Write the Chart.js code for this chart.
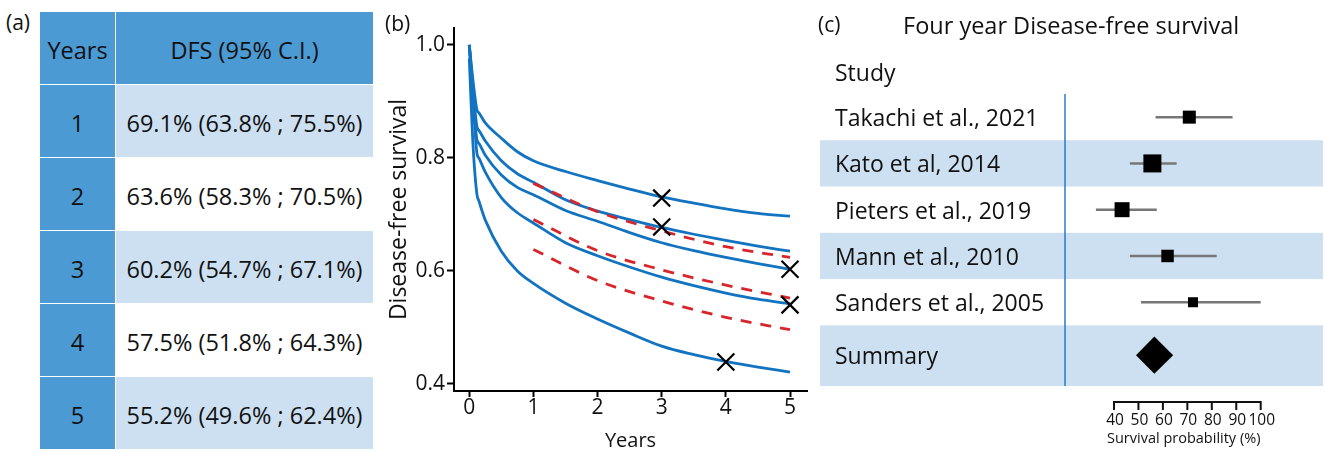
<!DOCTYPE html>
<html><head><meta charset="utf-8">
<script src="https://cdn.jsdelivr.net/npm/chart.js@4.4.1/dist/chart.umd.min.js"></script>
<style>
html,body{margin:0;padding:0;background:#fff;}
body{width:1324px;height:453px;position:relative;overflow:hidden;font-family:'Open Sans',sans-serif;color:#111;}
.lbl{position:absolute;white-space:nowrap;line-height:1;}
#tbl{position:absolute;left:40px;top:12px;display:grid;grid-template-columns:75px 257px;grid-template-rows:72px repeat(5,72px);gap:1px;background:#fff;}
#tbl div{display:flex;align-items:center;justify-content:center;font-size:23.5px;padding-top:3px;box-sizing:border-box;}
canvas{position:absolute;top:0;}
</style></head><body>
<div id="tbl"></div>
<canvas id="km" width="430" height="453" style="left:380px"></canvas>
<canvas id="forest" width="514" height="453" style="left:810px"></canvas>
<div class="lbl" style="left:6px;top:12px;font-size:21px">(a)</div>
<div class="lbl" style="left:385px;top:13px;font-size:21px">(b)</div>
<div class="lbl" style="left:818px;top:14px;font-size:21px">(c)</div>
<div class="lbl" style="left:903px;top:14px;font-size:23.5px">Four year Disease-free survival</div>
<div class="lbl" style="left:835px;top:61px;font-size:23px">Study</div>
<script>
// ---------- data ----------
// (a) pooled DFS table
const tableYears = [1, 2, 3, 4, 5];
const dfsEst  = [69.1, 63.6, 60.2, 57.5, 55.2];
const dfsLow  = [63.8, 58.3, 54.7, 51.8, 49.6];
const dfsHigh = [75.5, 70.5, 67.1, 64.3, 62.4];

// (b) reconstructed survival curves of individual studies
const kmTime = [0, 0.06, 0.12, 0.15, 0.25, 0.5, 0.75, 1, 1.5, 2, 2.5, 3, 3.5, 4, 4.5, 5];
const kmStudy1 = [1.0, 0.935, 0.885, 0.880, 0.862, 0.835, 0.811, 0.795, 0.776, 0.760, 0.745, 0.731, 0.720, 0.710, 0.702, 0.697];
const kmStudy2 = [1.0, 0.920, 0.855, 0.849, 0.830, 0.795, 0.772, 0.757, 0.726, 0.706, 0.691, 0.677, 0.665, 0.654, 0.644, 0.635];
const kmStudy3 = [1.0, 0.910, 0.832, 0.826, 0.805, 0.770, 0.748, 0.735, 0.707, 0.688, 0.668, 0.650, 0.636, 0.624, 0.613, 0.603];
const kmStudy4 = [1.0, 0.900, 0.808, 0.800, 0.775, 0.730, 0.703, 0.685, 0.650, 0.627, 0.607, 0.589, 0.574, 0.561, 0.550, 0.542];
const kmStudy5 = [0.976, 0.820, 0.735, 0.724, 0.690, 0.635, 0.600, 0.578, 0.543, 0.515, 0.490, 0.467, 0.452, 0.440, 0.430, 0.421];
const markerYears = [3, 3, 5, 5, 4];
const markerDFS   = [0.729, 0.678, 0.603, 0.540, 0.439];
const kmXTicks = [0, 1, 2, 3, 4, 5];
const kmYTicks = [0.4, 0.6, 0.8, 1.0];

// (c) forest plot
const studies    = ['Takachi et al., 2021', 'Kato et al, 2014', 'Pieters et al., 2019', 'Mann et al., 2010', 'Sanders et al., 2005'];
const studyEst   = [70.8, 55.7, 43.3, 61.9, 72.3];
const studyLow   = [57.0, 46.5, 32.6, 46.5, 51.0];
const studyHigh  = [88.5, 65.6, 57.5, 82.0, 100.0];
const studyWeight = [17.4, 33.3, 23.1, 16.0, 10.3];
const summaryLabel = 'Summary';
const summaryEst = 56.5, summaryLow = 49.0, summaryHigh = 64.2;
const forestTicks = [40, 50, 60, 70, 80, 90, 100];

// ---------- styles ----------
const DARK = '#4b9ad3', LIGHT = '#cce0f1';
const BLUE = '#1273c1', RED = '#d7262b';
Chart.defaults.font.family = "'Open Sans', sans-serif";
Chart.defaults.color = '#111';

// ---------- (a) table ----------
const tbl = document.getElementById('tbl');
let h = `<div style="background:${DARK}">Years</div><div style="background:${DARK}">DFS (95% C.I.)</div>`;
tableYears.forEach((yr, i) => {
  h += `<div style="background:${DARK}">${yr}</div>`;
  h += `<div style="background:${i % 2 === 0 ? LIGHT : '#fff'}">${dfsEst[i].toFixed(1)}% (${dfsLow[i].toFixed(1)}% ; ${dfsHigh[i].toFixed(1)}%)</div>`;
});
tbl.innerHTML = h;

// ---------- (b) survival curves ----------
const blueSets = [kmStudy1, kmStudy2, kmStudy3, kmStudy4, kmStudy5].map(arr => ({
  type: 'line', order: 2,
  data: kmTime.map((t, i) => ({x: t, y: arr[i]})),
  borderColor: BLUE, borderWidth: 2.8, pointRadius: 0, fill: false,
  cubicInterpolationMode: 'monotone'
}));
const redSets = [dfsHigh, dfsEst, dfsLow].map(arr => ({
  type: 'line', order: 1,
  data: tableYears.map((t, i) => ({x: t, y: arr[i] / 100})),
  borderColor: RED, borderWidth: 2.8, borderDash: [11, 9], pointRadius: 0, fill: false,
  cubicInterpolationMode: 'monotone'
}));
const markerSet = {
  type: 'scatter', order: 0,
  data: markerYears.map((t, i) => ({x: t, y: markerDFS[i]})),
  pointStyle: 'crossRot', pointRadius: 12, borderColor: '#000', borderWidth: 2.2,
  backgroundColor: '#000'
};

new Chart(document.getElementById('km'), {
  type: 'line',
  data: {datasets: [markerSet, ...redSets, ...blueSets]},
  options: {
    responsive: false, animation: false, devicePixelRatio: 1,
    layout: {autoPadding: false, padding: {top: 28, right: 3, left: 0, bottom: 0}},
    plugins: {legend: {display: false}, tooltip: {enabled: false}},
    scales: {
      x: {
        type: 'linear', min: -0.238, max: 5.265,
        afterBuildTicks: s => { s.ticks = kmXTicks.map(v => ({value: v})); },
        afterFit: s => { s.height = 62; },
        grid: {drawOnChartArea: false, drawTicks: true, tickLength: 6, tickWidth: 2, tickColor: '#000'},
        border: {display: true, color: '#000', width: 2},
        ticks: {font: {size: 21, lineHeight: 1}, color: '#111', padding: 1, maxRotation: 0, autoSkip: false,
                callback: v => String(v)},
        title: {display: true, text: 'Years', font: {size: 20}, color: '#111', padding: {top: 0, bottom: 0}}
      },
      y: {
        type: 'linear', min: 0.3876, max: 1.030,
        afterBuildTicks: s => { s.ticks = kmYTicks.map(v => ({value: v})); },
        afterFit: s => { s.width = 74; },
        grid: {drawOnChartArea: false, drawTicks: true, tickLength: 7, tickWidth: 2, tickColor: '#000'},
        border: {display: true, color: '#000', width: 2},
        ticks: {font: {size: 21, lineHeight: 1}, color: '#111', padding: 2, autoSkip: false,
                callback: v => Number(v).toFixed(1)},
        title: {display: true, text: 'Disease-free survival', font: {size: 23}, color: '#111', padding: {top: 6, bottom: 0}}
      }
    }
  }
});

// ---------- (c) forest plot ----------
const SUMMARY_ROW = 5.143;
const forestDecor = {
  id: 'forestDecor',
  beforeDatasetsDraw(chart) {
    const {ctx, chartArea: ca, scales: {x, y}} = chart;
    ctx.save();
    ctx.fillStyle = LIGHT;
    [1, 3].forEach(i => {
      const y0 = y.getPixelForValue(i - 0.5), y1 = y.getPixelForValue(i + 0.5);
      ctx.fillRect(10, y0, ca.right - 10, y1 - y0);
    });
    const ys = y.getPixelForValue(4.5);
    ctx.fillRect(10, ys, ca.right - 10, ca.bottom - ys);
    ctx.fillStyle = '#111';
    ctx.font = "23px 'Open Sans', sans-serif";
    ctx.textAlign = 'left'; ctx.textBaseline = 'alphabetic';
    studies.forEach((s, i) => ctx.fillText(s, 25, y.getPixelForValue(i) + 9));
    ctx.fillText(summaryLabel, 25, y.getPixelForValue(SUMMARY_ROW) + 9);
    ctx.strokeStyle = '#2a7bc0'; ctx.lineWidth = 1.5;
    ctx.beginPath(); ctx.moveTo(ca.left, ca.top); ctx.lineTo(ca.left, ca.bottom); ctx.stroke();
    ctx.restore();
  },
  afterDatasetsDraw(chart) {
    const {ctx, chartArea: ca, scales: {x, y}} = chart;
    ctx.save();
    const yc = y.getPixelForValue(SUMMARY_ROW);
    const xl = x.getPixelForValue(summaryLow), xc = x.getPixelForValue(summaryEst), xr = x.getPixelForValue(summaryHigh);
    const hh = (xr - xl) / 2;
    ctx.fillStyle = '#000';
    ctx.beginPath();
    ctx.moveTo(xl, yc); ctx.lineTo(xc, yc - hh); ctx.lineTo(xr, yc); ctx.lineTo(xc, yc + hh);
    ctx.closePath(); ctx.fill();
    const ay = ca.bottom + 16;
    const x0 = x.getPixelForValue(forestTicks[0]), x1 = x.getPixelForValue(forestTicks[forestTicks.length - 1]);
    ctx.strokeStyle = '#111'; ctx.lineWidth = 2;
    ctx.beginPath(); ctx.moveTo(x0 - 1, ay); ctx.lineTo(x1 + 1, ay);
    forestTicks.forEach(v => { const px = x.getPixelForValue(v); ctx.moveTo(px, ay); ctx.lineTo(px, ay + 8); });
    ctx.stroke();
    ctx.fillStyle = '#111';
    ctx.font = "15.5px 'Open Sans', sans-serif";
    ctx.textAlign = 'center'; ctx.textBaseline = 'alphabetic';
    forestTicks.forEach(v => ctx.fillText(String(v), x.getPixelForValue(v) + 1, ay + 23));
    ctx.font = "14.5px 'Open Sans', sans-serif";
    ctx.textAlign = 'left';
    ctx.fillText('Survival probability (%)', x0 - 7, ay + 41);
    ctx.restore();
  }
};

const ciSets = studies.map((s, i) => ({
  type: 'line', showLine: true, order: 1,
  data: [{x: studyLow[i], y: i}, {x: studyHigh[i], y: i}],
  borderColor: '#777', borderWidth: 2.5, pointRadius: 0
}));
const squareSet = {
  type: 'scatter', order: 0,
  data: studies.map((s, i) => ({x: studyEst[i], y: i})),
  pointStyle: 'rect',
  pointRadius: studyWeight.map(w => 3.12 * Math.sqrt(w) / Math.SQRT2),
  backgroundColor: '#000', borderWidth: 0
};

new Chart(document.getElementById('forest'), {
  type: 'scatter',
  data: {datasets: [squareSet, ...ciSets]},
  options: {
    responsive: false, animation: false, devicePixelRatio: 1,
    layout: {autoPadding: false, padding: {left: 255, right: 1, top: 94, bottom: 67}},
    plugins: {legend: {display: false}, tooltip: {enabled: false}},
    scales: {
      x: {type: 'linear', display: false, min: 19.96, max: 125.48},
      y: {type: 'linear', display: false, reverse: true, min: -0.5, max: 5.81}
    }
  },
  plugins: [forestDecor]
});
</script>
</body></html>
